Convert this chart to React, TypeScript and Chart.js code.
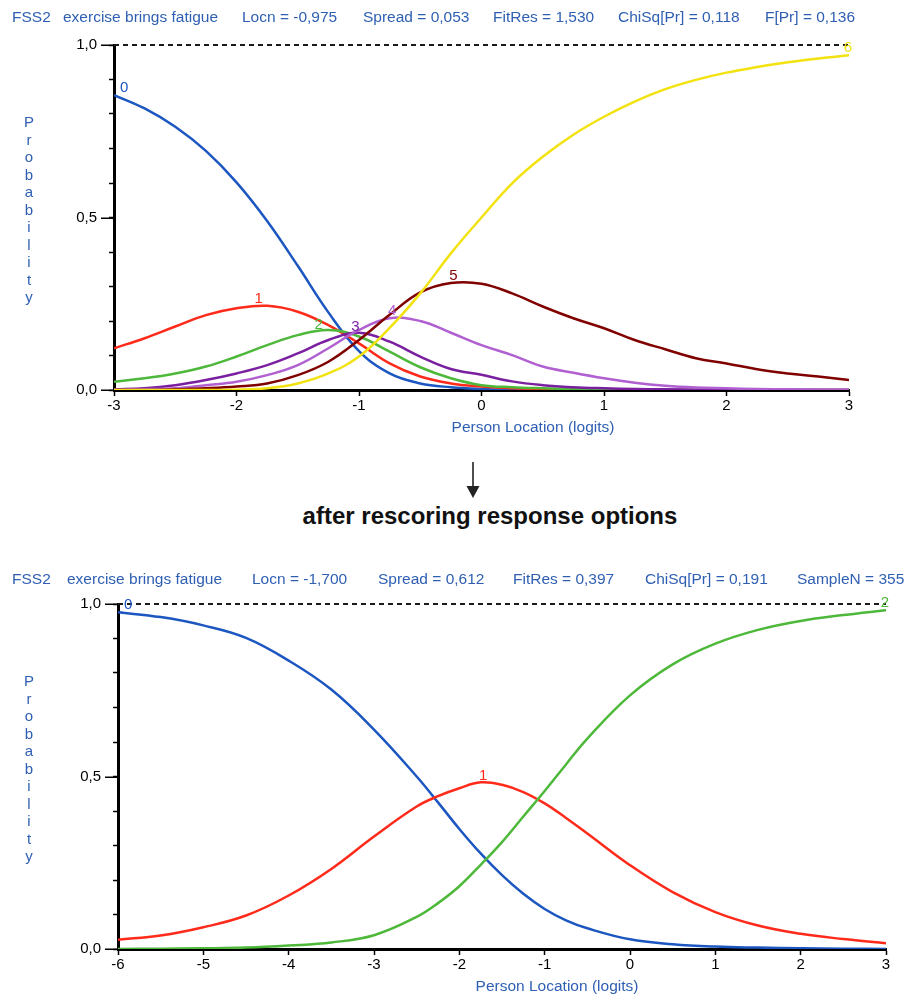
import React, { useEffect, useRef } from "react";
import { Chart, registerables } from "chart.js";

Chart.register(...registerables);

const FONT = '"Liberation Sans", Arial, sans-serif';
const TEXT_BLUE = "#2f5fb3";

// ---------- top chart (before rescoring) ----------
const topX = [-3, -2.75, -2.5, -2.25, -2, -1.75, -1.5, -1.25, -1, -0.75, -0.5, -0.25, 0, 0.25, 0.5, 0.75, 1, 1.25, 1.5, 1.75, 2, 2.25, 2.5, 2.75, 3];
const topCat0 = [0.855, 0.816, 0.763, 0.693, 0.602, 0.49, 0.36, 0.225, 0.113, 0.048, 0.019, 0.008, 0.003, 0.001, 0.001, 0, 0, 0, 0, 0, 0, 0, 0, 0, 0];
const topCat1 = [0.121, 0.15, 0.184, 0.217, 0.237, 0.244, 0.227, 0.188, 0.135, 0.077, 0.039, 0.019, 0.01, 0.005, 0.003, 0.001, 0, 0, 0, 0, 0, 0, 0, 0, 0];
const topCat2 = [0.024, 0.034, 0.048, 0.068, 0.097, 0.13, 0.159, 0.174, 0.155, 0.111, 0.066, 0.034, 0.014, 0.008, 0.005, 0.003, 0.002, 0.001, 0, 0, 0, 0, 0, 0, 0];
const topCat3 = [0.002, 0.005, 0.014, 0.029, 0.048, 0.072, 0.106, 0.145, 0.166, 0.14, 0.097, 0.061, 0.044, 0.025, 0.014, 0.008, 0.005, 0.003, 0.002, 0.001, 0.001, 0, 0, 0, 0];
const topCat4 = [0, 0.002, 0.005, 0.014, 0.024, 0.043, 0.072, 0.121, 0.174, 0.208, 0.2, 0.166, 0.13, 0.101, 0.068, 0.05, 0.034, 0.021, 0.012, 0.007, 0.005, 0.003, 0.002, 0.001, 0.001];
const topCat5 = [0, 0, 0.002, 0.005, 0.01, 0.019, 0.043, 0.082, 0.145, 0.218, 0.283, 0.31, 0.308, 0.28, 0.242, 0.208, 0.179, 0.145, 0.118, 0.092, 0.077, 0.06, 0.048, 0.039, 0.029];
const topCat6 = [0, 0, 0, 0, 0.001, 0.005, 0.019, 0.048, 0.097, 0.18, 0.28, 0.396, 0.5, 0.599, 0.676, 0.74, 0.792, 0.836, 0.872, 0.899, 0.92, 0.936, 0.95, 0.961, 0.97];
const topCategories = ["0", "1", "2", "3", "4", "5", "6"];
const topLabelAt = [-3, -1.82, -1.33, -1.03, -0.73, -0.23, 3];
const topHeader = ["FSS2", "exercise brings fatigue", "Locn = -0,975", "Spread = 0,053", "FitRes = 1,530", "ChiSq[Pr] = 0,118", "F[Pr] = 0,136"];

// ---------- bottom chart (after rescoring) ----------
const botX = [-6, -5.5, -5, -4.5, -4, -3.5, -3, -2.5, -2.25, -2, -1.75, -1.5, -1.25, -1, -0.75, -0.5, 0, 0.5, 1, 1.5, 2, 2.5, 3];
const botCat0 = [0.976, 0.962, 0.938, 0.902, 0.836, 0.752, 0.636, 0.5, 0.425, 0.348, 0.277, 0.214, 0.16, 0.116, 0.083, 0.06, 0.028, 0.014, 0.007, 0.004, 0.002, 0.001, 0];
const botCat1 = [0.027, 0.039, 0.063, 0.097, 0.155, 0.232, 0.326, 0.413, 0.443, 0.466, 0.483, 0.476, 0.455, 0.422, 0.38, 0.335, 0.243, 0.165, 0.107, 0.068, 0.044, 0.029, 0.017];
const botCat2 = [0, 0.001, 0.002, 0.004, 0.01, 0.019, 0.04, 0.093, 0.133, 0.182, 0.244, 0.31, 0.384, 0.458, 0.535, 0.61, 0.735, 0.825, 0.885, 0.925, 0.951, 0.968, 0.982];
const botCategories = ["0", "1", "2"];
const botLabelAt = [-6, -1.72, 3];
const botHeader = ["FSS2", "exercise brings fatigue", "Locn = -1,700", "Spread = 0,612", "FitRes = 0,397", "ChiSq[Pr] = 0,191", "SampleN = 355"];

// ---------- shared ----------
const yMajorValues = [0, 0.5, 1];
const yMajorTexts = ["0,0", "0,5", "1,0"];
const yTitle = "Probability";
const xTitle = "Person Location (logits)";
const topColors = ["#1c56c0", "#ff2a1a", "#4db83a", "#7a1fa0", "#b060d0", "#800000", "#f2e20f"];
const botColors = ["#1c56c0", "#ff2a1a", "#4db83a"];

function interp(xs: number[], ys: number[], v: number) {
  for (let i = 0; i < xs.length - 1; i++) {
    if (v >= xs[i] && v <= xs[i + 1]) {
      const t = (v - xs[i]) / (xs[i + 1] - xs[i]);
      return ys[i] + t * (ys[i + 1] - ys[i]);
    }
  }
  return v < xs[0] ? ys[0] : ys[ys.length - 1];
}

const overlayPlugin = {
  id: "overlay",
  afterDraw(chart: any, _args: any, o: any) {
    const { ctx, chartArea, scales } = chart;
    const xs = scales.x;
    const ys = scales.y;
    ctx.save();
    // longer major ticks on y
    ctx.strokeStyle = "#000";
    ctx.lineWidth = 1.5;
    yMajorValues.forEach((v) => {
      const py = Math.round(ys.getPixelForValue(v)) + 0.25;
      ctx.beginPath();
      ctx.moveTo(chartArea.left - 13, py);
      ctx.lineTo(chartArea.left, py);
      ctx.stroke();
    });
    // header
    ctx.font = `15.5px ${FONT}`;
    ctx.fillStyle = TEXT_BLUE;
    ctx.textAlign = "left";
    ctx.textBaseline = "alphabetic";
    o.header.forEach((t: string, i: number) => ctx.fillText(t, o.headerX[i], o.headerY));
    // vertical stacked y title
    ctx.font = `15px ${FONT}`;
    ctx.textAlign = "center";
    ctx.textBaseline = "middle";
    Array.from(yTitle).forEach((ch, i) => {
      ctx.fillText(ch, 29, chartArea.top + 78 + i * 17.5);
    });
    // x title
    ctx.font = `15.5px ${FONT}`;
    ctx.fillText(xTitle, o.xTitleX, chartArea.bottom + 38);
    // curve labels
    ctx.font = `15px ${FONT}`;
    ctx.textBaseline = "alphabetic";
    const n = o.series.length;
    o.series.forEach((s: number[], i: number) => {
      const ax = o.labelAt[i];
      const vy = interp(o.x, s, ax);
      let px = xs.getPixelForValue(ax);
      const py = ys.getPixelForValue(vy) - 3;
      ctx.fillStyle = o.colors[i];
      if (i === 0) {
        ctx.textAlign = "left";
        px += 6;
      } else {
        ctx.textAlign = "center";
        if (i === n - 1) px -= 1;
      }
      ctx.fillText(o.cats[i], px, py);
    });
    ctx.restore();
  },
};

function buildConfig(c: any) {
  const datasets: any[] = [
    {
      label: "1,0",
      data: [
        { x: c.xMin, y: 1 },
        { x: c.xMax, y: 1 },
      ],
      borderColor: "#1a1a1a",
      borderWidth: 2,
      borderDash: [5, 4],
      pointRadius: 0,
      order: 100,
      clip: false,
    },
    ...c.series.map((s: number[], i: number) => ({
      label: c.cats[i],
      data: c.x.map((xv: number, j: number) => ({ x: xv, y: s[j] })),
      borderColor: c.colors[i],
      borderWidth: 2.5,
      pointRadius: 0,
      tension: 0.4,
      order: 50 - i,
    })),
  ];
  return {
    type: "line",
    data: { datasets },
    plugins: [overlayPlugin],
    options: {
      responsive: false,
      animation: false,
      events: [],
      layout: { padding: { left: 0, right: c.padRight, top: c.padTop, bottom: 0 } },
      plugins: {
        legend: { display: false },
        tooltip: { enabled: false },
        overlay: {
          header: c.header,
          headerX: c.headerX,
          headerY: c.headerY,
          xTitleX: c.xTitleX,
          series: c.series,
          x: c.x,
          labelAt: c.labelAt,
          colors: c.colors,
          cats: c.cats,
        },
      },
      scales: {
        x: {
          type: "linear",
          min: c.xMin,
          max: c.xMax,
          ticks: {
            stepSize: 1,
            autoSkip: false,
            maxRotation: 0,
            color: "#000",
            padding: 1,
            font: { family: FONT, size: 15 },
            callback: (v: number) => String(v),
          },
          grid: { display: true, drawOnChartArea: false, drawTicks: true, tickLength: 6, tickColor: "#000", tickWidth: 1.5 },
          border: { display: true, color: "#000", width: 3 },
          afterFit: (s: any) => {
            s.height = c.xAxisH;
          },
        },
        y: {
          type: "linear",
          min: 0,
          max: 1,
          ticks: {
            stepSize: 0.1,
            autoSkip: false,
            color: "#000",
            padding: 12,
            font: { family: FONT, size: 15 },
            callback: (v: number) => {
              const k = yMajorValues.findIndex((m) => Math.abs(m - v) < 1e-6);
              return k >= 0 ? yMajorTexts[k] : "";
            },
          },
          grid: { display: true, drawOnChartArea: false, drawTicks: true, tickLength: 5, tickColor: "#000", tickWidth: 1.5 },
          border: { display: true, color: "#000", width: 3 },
          afterFit: (s: any) => {
            s.width = c.yAxisW;
          },
        },
      },
    },
  };
}

function ProbChart({ cfg, height, top }: { cfg: any; height: number; top: number }) {
  const ref = useRef<HTMLCanvasElement>(null);
  useEffect(() => {
    const chart = new Chart(ref.current as HTMLCanvasElement, buildConfig(cfg) as any);
    return () => chart.destroy();
  }, []);
  return (
    <canvas
      ref={ref}
      width={912}
      height={height}
      style={{ position: "absolute", left: 0, top, width: 912, height, display: "block" }}
    />
  );
}

const topCfg = {
  x: topX,
  series: [topCat0, topCat1, topCat2, topCat3, topCat4, topCat5, topCat6],
  cats: topCategories,
  colors: topColors,
  labelAt: topLabelAt,
  header: topHeader,
  headerX: [12, 63, 242, 363, 493, 618, 765],
  headerY: 22,
  xMin: -3,
  xMax: 3,
  padTop: 45,
  padRight: 63,
  yAxisW: 114,
  xAxisH: 55,
  xTitleX: 533,
};

const botCfg = {
  x: botX,
  series: [botCat0, botCat1, botCat2],
  cats: botCategories,
  colors: botColors,
  labelAt: botLabelAt,
  header: botHeader,
  headerX: [12, 67, 252, 378, 513, 645, 797],
  headerY: 29,
  xMin: -6,
  xMax: 3,
  padTop: 49,
  padRight: 26,
  yAxisW: 118,
  xAxisH: 48,
  xTitleX: 557,
};

export default function App() {
  return (
    <div style={{ position: "absolute", left: 0, top: 0, width: 912, height: 997, background: "#fff", overflow: "hidden" }}>
      <ProbChart cfg={topCfg} height={445} top={0} />
      <svg
        width={20}
        height={44}
        style={{ position: "absolute", left: 463, top: 458 }}
        viewBox="0 0 20 44"
      >
        <line x1={10} y1={4} x2={10} y2={30} stroke="#222" strokeWidth={1.6} />
        <polygon points="3.5,28 16.5,28 10,40" fill="#222" />
      </svg>
      <div
        style={{
          position: "absolute",
          left: 0,
          width: 980,
          top: 502,
          textAlign: "center",
          fontFamily: FONT,
          fontWeight: "bold",
          fontSize: 24,
          lineHeight: "28px",
          color: "#111",
        }}
      >
        after rescoring response options
      </div>
      <ProbChart cfg={botCfg} height={442} top={555} />
    </div>
  );
}
